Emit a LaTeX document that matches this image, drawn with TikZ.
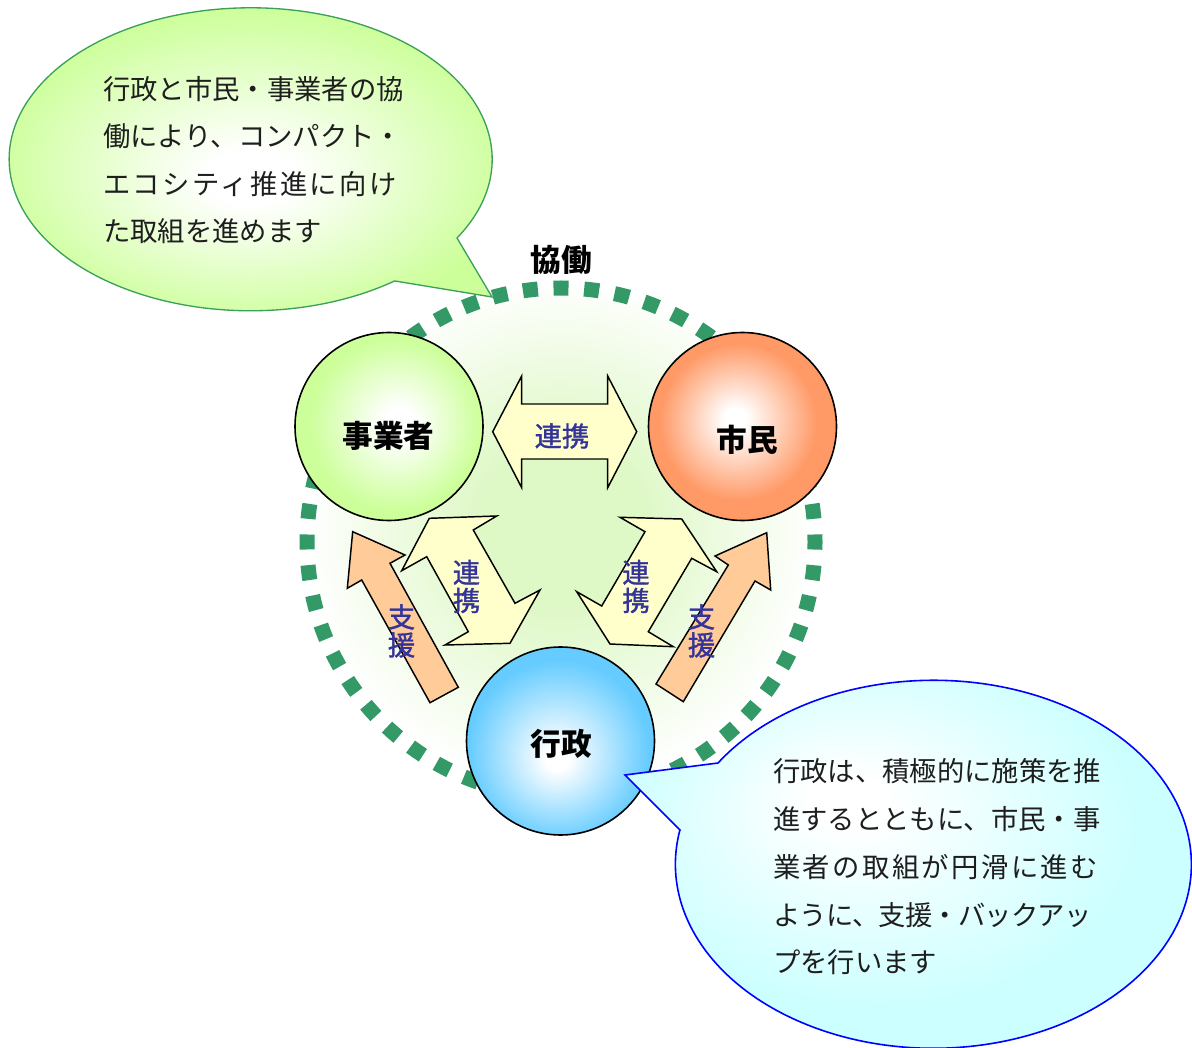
\documentclass[tikz,border=0pt]{standalone}
\usepackage{fontspec}
\setmainfont{Noto Sans CJK JP}
\usetikzlibrary{shadings}
\definecolor{cgreen}{RGB}{204,255,153}
\definecolor{corange}{RGB}{255,153,102}
\definecolor{cblue}{RGB}{102,204,255}
\definecolor{ccyan}{RGB}{204,255,255}
\definecolor{cdot}{RGB}{51,153,102}
\definecolor{cinner}{RGB}{222,248,198}
\definecolor{ctext}{RGB}{51,51,153}
\definecolor{cyellow}{RGB}{255,255,204}
\definecolor{cpeach}{RGB}{255,204,153}
\definecolor{cgline}{RGB}{60,160,90}
\definecolor{cbody}{RGB}{30,30,30}
\pgfdeclareradialshading{shGreen}{\pgfpoint{3bp}{1bp}}{color(0bp)=(white);color(4bp)=(white);color(23bp)=(cgreen);color(50bp)=(cgreen)}
\pgfdeclareradialshading{shOrange}{\pgfpoint{-2bp}{2bp}}{color(0bp)=(white);color(3bp)=(white);color(21bp)=(corange);color(50bp)=(corange)}
\pgfdeclareradialshading{shBlue}{\pgfpoint{-1bp}{-5bp}}{color(0bp)=(white);color(3bp)=(white);color(24bp)=(cblue);color(50bp)=(cblue)}
\pgfdeclareradialshading{shInner}{\pgfpoint{0bp}{2bp}}{color(0bp)=(cinner);color(8bp)=(cinner);color(25bp)=(white);color(50bp)=(white)}
\pgfdeclareradialshading{shBubG}{\pgfpoint{0bp}{-4bp}}{color(0bp)=(white);color(4bp)=(white);color(24bp)=(cgreen);color(50bp)=(cgreen)}
\pgfdeclareradialshading{shBubB}{\pgfpoint{-7bp}{8bp}}{color(0bp)=(white);color(3bp)=(white);color(22bp)=(ccyan);color(50bp)=(ccyan)}
\begin{document}
\begin{tikzpicture}[x=0.75pt,y=-0.75pt,
  ball/.style={circle, draw=black, line width=1.2pt, minimum size=141pt, inner sep=0pt, shade},
  lbl/.style={inner sep=0pt, font=\fontsize{23}{23}\selectfont\bfseries, text=black},
  linktext/.style={inner sep=0pt, text=ctext, align=center, font=\fontsize{20.5}{21}\selectfont\addfontfeature{FakeBold=1.2}},
  bubtext/.style={anchor=west, inner sep=0pt, text=cbody, font=\fontsize{20.5}{20.5}\selectfont},
  fatarrow/.style={draw=black, line width=1.1pt, line join=miter}
]
\useasboundingbox (0,0) rectangle (1192,1048);
\fill[white] (0,0) rectangle (1192,1048);

% cooperation circle
\node[circle, minimum size=381pt, inner sep=0pt, shade, shading=shInner] (coop) at (561,542) {};
\draw[cdot, line width=11.25pt, dash pattern=on 11.25pt off 11.77pt, dash phase=5.6pt] (coop.center) circle[radius=190.5pt];
\node[lbl] (kyodo) at (561,260) {協働};

% fat arrows
\draw[fatarrow, fill=cyellow] (492.7,431.7) -- (521.7,376) -- (521.7,404) -- (607.7,404) -- (607.7,376) -- (636.7,431.7) -- (607.7,487.7) -- (607.7,459) -- (521.7,459) -- (521.7,487.7) -- cycle;
\node[linktext] (renkeiH) at (562,436) {連携};

\draw[fatarrow, fill=cyellow] (401.7,570.7) -- (429.3,518.3) -- (496.7,516) -- (473.3,530) -- (515,603.3) -- (540,590) -- (510,643.3) -- (445,645) -- (468.3,631.7) -- (426.7,556.7) -- cycle;
\node[linktext] (renkeiL) at (466.5,586.5) {連\\携};

\draw[fatarrow, fill=cyellow] (620,517.3) -- (681.7,519) -- (716.7,571.7) -- (691.7,558.3) -- (648.3,631.7) -- (673.3,646.7) -- (610,644) -- (576.7,591.7) -- (601.7,606) -- (645,531.7) -- cycle;
\node[linktext] (renkeiR) at (636,586.5) {連\\携};

\draw[fatarrow, fill=cpeach] (352.7,531.7) -- (347.3,588.3) -- (361.7,580) -- (430,702.7) -- (458.3,687.3) -- (390,563.3) -- (405,555) -- cycle;
\node[linktext] (shienL) at (401.5,631) {支\\援};

\draw[fatarrow, fill=cpeach] (766.7,532.7) -- (770.7,590) -- (755,581) -- (683.3,701.7) -- (656,684) -- (728.3,565) -- (715,556) -- cycle;
\node[linktext] (shienR) at (701.5,631) {支\\援};

% three actors
\node[ball, shading=shGreen] (jigyo) at (389,426.5) {};
\node[ball, shading=shOrange] (shimin) at (742.5,426.5) {};
\node[ball, shading=shBlue] (gyosei) at (560.5,741) {};
\node[lbl] (jigyoL) at (388.5,435.5) {事業者};
\node[lbl] (shiminL) at (747.5,439.5) {市民};
\node[lbl] (gyoseiL) at (561,744) {行政};

% green speech bubble
\path[draw=cgline, line width=1pt, shade, shading=shBubG] (395,281) -- (492,297) -- (457,238)
  arc[start angle=31.3, end angle=-306.5, x radius=241.5, y radius=151.5] -- cycle;
\node[bubtext] (g1) at (103,89) {行政と市民・事業者の協};
\node[bubtext] (g2) at (103,136.5) {働により、コンパクト・};
\node[bubtext] (g3) at (103,184) {\addfontfeature{LetterSpace=8.8}エコシティ推進に向け};
\node[bubtext] (g4) at (103,231.5) {た取組を進めます};

% blue speech bubble
\path[draw=blue, line width=1.2pt, shade, shading=shBubB] (680,830) -- (625,775) -- (718,763)
  arc[start angle=213.4, end angle=550.7, x radius=258, y radius=184] -- cycle;
\node[bubtext] (b1) at (773,771.5) {行政は、積極的に施策を推};
\node[bubtext] (b2) at (773,819) {進するとともに、市民・事};
\node[bubtext] (b3) at (773,867) {\addfontfeature{LetterSpace=8.8}業者の取組が円滑に進む};
\node[bubtext] (b4) at (773,915) {\addfontfeature{LetterSpace=-3}ように、支援・バックアッ};
\node[bubtext] (b5) at (773,962) {プを行います};
\end{tikzpicture}
\end{document}
